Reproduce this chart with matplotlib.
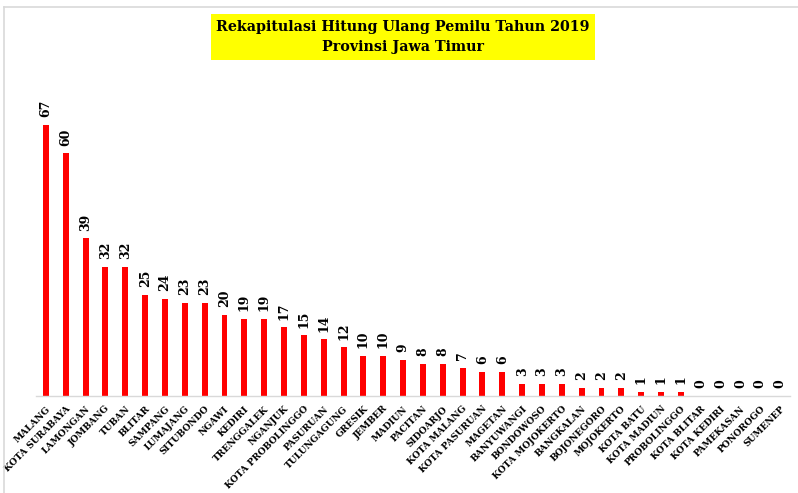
import matplotlib
matplotlib.use("Agg")
import matplotlib.pyplot as plt
from matplotlib.lines import Line2D

categories = ["MALANG", "KOTA SURABAYA", "LAMONGAN", "JOMBANG", "TUBAN", "BLITAR",
              "SAMPANG", "LUMAJANG", "SITUBONDO", "NGAWI", "KEDIRI", "TRENGGALEK",
              "NGANJUK", "KOTA PROBOLINGGO", "PASURUAN", "TULUNGAGUNG", "GRESIK",
              "JEMBER", "MADIUN", "PACITAN", "SIDOARJO", "KOTA MALANG", "KOTA PASURUAN",
              "MAGETAN", "BANYUWANGI", "BONDOWOSO", "KOTA MOJOKERTO", "BANGKALAN",
              "BOJONEGORO", "MOJOKERTO", "KOTA BATU", "KOTA MADIUN", "PROBOLINGGO",
              "KOTA BLITAR", "KOTA KEDIRI", "PAMEKASAN", "PONOROGO", "SUMENEP"]
values = [67, 60, 39, 32, 32, 25, 24, 23, 23, 20, 19, 19, 17, 15, 14, 12, 10, 10, 9,
          8, 8, 7, 6, 6, 3, 3, 3, 2, 2, 2, 1, 1, 1, 0, 0, 0, 0, 0]
title_lines = ["Rekapitulasi Hitung Ulang Pemilu Tahun 2019", "Provinsi Jawa Timur"]

W, H = 798, 493
fig = plt.figure(figsize=(W / 100, H / 100), dpi=100)
font = "DejaVu Serif"

# axes: x 36..790 px, baseline at y=396 px
ax_left, ax_right = 36, 790
base_y = 396
ymax = 75
px_per_unit = 271 / 67
top_y = base_y - ymax * px_per_unit
ax = fig.add_axes([ax_left / W, 1 - base_y / H, (ax_right - ax_left) / W, (base_y - top_y) / H])

x = list(range(len(categories)))
ax.bar(x, values, width=0.3, color="#ff0000")
for xi, v in zip(x, values):
    ax.text(xi, v + 1.9, str(v), rotation=90, ha="center", va="bottom",
            fontsize=9, fontweight="bold", family=font, color="black")

ax.set_xlim(-0.5, len(categories) - 0.5)
ax.set_ylim(0, ymax)
ax.set_yticks([])
ax.set_xticks(x)
ax.set_xticklabels(categories, rotation=45, ha="right", rotation_mode="anchor",
                   fontsize=6.6, fontweight="bold", family=font)
ax.tick_params(axis="x", length=0, pad=6)
for s in ["top", "right", "left"]:
    ax.spines[s].set_visible(False)
ax.spines["bottom"].set_color("#d9d9d9")
ax.spines["bottom"].set_linewidth(1)
ax.patch.set_alpha(0)

# outer frame (top and left visible)
fig.add_artist(Line2D([4 / W, 4 / W], [0, 1 - 7 / H], color="#d9d9d9", lw=1.2,
                      transform=fig.transFigure))
fig.add_artist(Line2D([4 / W, 1], [1 - 7 / H, 1 - 7 / H], color="#d9d9d9", lw=1.2,
                      transform=fig.transFigure))

fig.text(403 / W, 1 - 37 / H, "\n".join(title_lines), ha="center", va="center",
         fontsize=10.3, fontweight="bold", family=font, linespacing=1.55,
         bbox=dict(boxstyle="square,pad=0.4", facecolor="#ffff00", edgecolor="none"))

fig.savefig("out.png", dpi=100)
